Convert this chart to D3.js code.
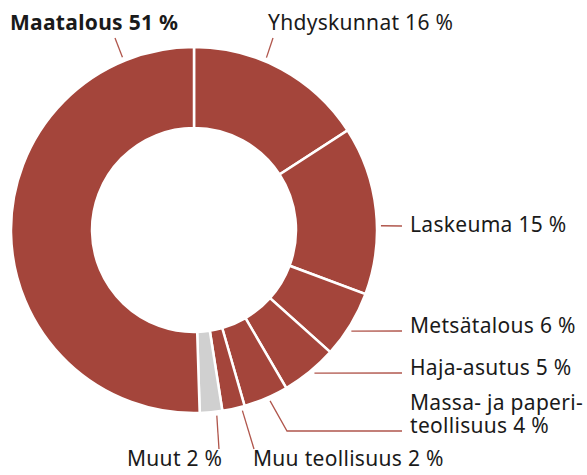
<!DOCTYPE html>
<html>
<head>
<meta charset="utf-8">
<script src="https://cdn.jsdelivr.net/npm/d3@7"></script>
<style>
  body { margin: 0; background: #fff; }
  text { font-family: "Noto Sans", sans-serif; font-size: 21px; letter-spacing: 0.3px; fill: #1a1a1a; }
</style>
</head>
<body>
<svg id="fig" width="587" height="475"></svg>
<script>
// sectors, clockwise from 12 o'clock
const names = ["Yhdyskunnat", "Laskeuma", "Metsätalous", "Haja-asutus",
               "Massa- ja paperiteollisuus", "Muu teollisuus", "Muut", "Maatalous"];
const shares = [16, 15, 6, 5, 4, 2, 2, 51];
const labelTexts = [["Yhdyskunnat 16 %"], ["Laskeuma 15 %"], ["Metsätalous 6 %"], ["Haja-asutus 5 %"],
                    ["Massa- ja paperi-", "teollisuus 4 %"], ["Muu teollisuus 2 %"], ["Muut 2 %"], ["Maatalous 51 %"]];

const red = "#a4453b", grey = "#d0d0d0";

// label layout: leader start angle (deg), leader bend/end points, text anchor
const layout = [
  {ang: 22.8, pts: [[273, 38]], x: 268, y: 30},
  {ang: 88.7, pts: [[402, 226]], x: 410, y: 232},
  {ang: 122.7, pts: [[402, 331]], x: 410, y: 333},
  {ang: 139.9, pts: [[402, 373]], x: 410, y: 375},
  {ang: 156, pts: [[287, 431], [402, 431]], x: 410, y: 410},
  {ang: 165, pts: [[254, 449]], x: 253, y: 466},
  {ang: 173, pts: [[219, 449]], x: 127, y: 466},
  {ang: -22.5, pts: [[115, 38]], x: 10, y: 30, bold: true}
];

const cx = 194, cy = 230, R = 183, r0 = 102;
const svg = d3.select("#fig");
const g = svg.append("g").attr("transform", `translate(${cx},${cy})`);

const data = names.map((n, i) => ({name: n, value: shares[i], i}));
const pie = d3.pie().value(d => d.value).sort(null);
const arc = d3.arc().innerRadius(r0).outerRadius(R);

g.selectAll("path.slice")
  .data(pie(data))
  .join("path")
  .attr("class", "slice")
  .attr("d", arc)
  .attr("fill", d => d.data.name === "Muut" ? grey : red)
  .attr("stroke", "#fff")
  .attr("stroke-width", 2.5)
  .attr("stroke-linejoin", "miter");

// leader lines
const polar = (deg, rad) => {
  const a = deg * Math.PI / 180;
  return [cx + Math.sin(a) * rad, cy - Math.cos(a) * rad];
};
const line = d3.line();
layout.forEach((l, i) => {
  const pts = [polar(l.ang, R + 4), ...l.pts];
  svg.append("path")
    .attr("d", line(pts))
    .attr("fill", "none")
    .attr("stroke", "#b0564c")
    .attr("stroke-width", 1.3);

  const t = svg.append("text")
    .attr("x", l.x)
    .attr("y", l.y)
    .style("font-weight", l.bold ? "bold" : null);
  labelTexts[i].forEach((s, k) => {
    t.append("tspan").attr("x", l.x).attr("dy", k ? 23 : 0).text(s);
  });
});
</script>
</body>
</html>
